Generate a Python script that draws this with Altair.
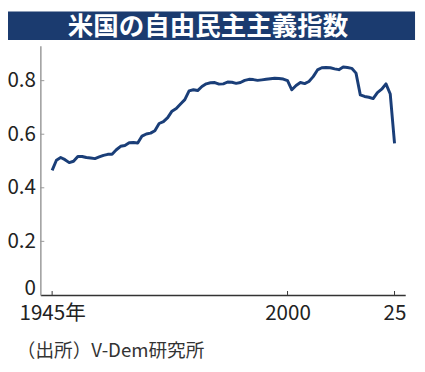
import altair as alt
import pandas as pd

title_text = "米国の自由民主主義指数"
source_text = "（出所）V-Dem研究所"

years = list(range(1945, 2026))
values = [
    0.465, 0.503, 0.513, 0.505, 0.494, 0.499, 0.517, 0.517, 0.513, 0.511,
    0.509, 0.515, 0.521, 0.525, 0.525, 0.542, 0.555, 0.558, 0.568, 0.569,
    0.567, 0.593, 0.601, 0.604, 0.613, 0.640, 0.647, 0.662, 0.686, 0.696,
    0.713, 0.729, 0.762, 0.766, 0.763, 0.778, 0.788, 0.792, 0.793, 0.787,
    0.788, 0.795, 0.794, 0.790, 0.793, 0.801, 0.805, 0.804, 0.801, 0.803,
    0.805, 0.807, 0.809, 0.808, 0.806, 0.800, 0.766, 0.782, 0.793, 0.789,
    0.797, 0.815, 0.840, 0.848, 0.849, 0.848, 0.844, 0.841, 0.851, 0.849,
    0.846, 0.828, 0.747, 0.741, 0.738, 0.733, 0.755, 0.768, 0.788, 0.750,
    0.566,
]

y_tick_values = [0, 0.2, 0.4, 0.6, 0.8]
x_tick_values = [1945, 2000, 2025]

W, H = 372, 254
NAVY = "#1b3b6f"
LINE = "#1a3e78"
NUM_FONT = "Noto Sans CJK JP"
CJK_FONT = "Noto Sans CJK JP"

xscale = alt.Scale(domain=[1942.25, 2027.5], nice=False, zero=False)
yscale = alt.Scale(domain=[0, 0.93], nice=False, zero=True)

x_axis = alt.Axis(
    values=x_tick_values,
    title=None,
    grid=False,
    ticks=False,
    tickSize=0,
    domainColor="#333333",
    domainWidth=1.5,
    labelFont=NUM_FONT,
    labelFontSize=21,
    labelColor="#222222",
    labelPadding=8,
    labelFlush=False,
    labelOverlap=False,
    labelExpr="datum.value == 1945 ? '1945年' : (datum.value == 2025 ? '25' : '' + datum.value)",
)
y_axis = alt.Axis(
    values=y_tick_values,
    title=None,
    grid=False,
    ticks=False,
    tickSize=0,
    domainColor="#999999",
    domainWidth=1.5,
    labelFont=NUM_FONT,
    labelFontSize=21,
    labelColor="#222222",
    labelPadding=5,
    labelFlush=False,
    labelOverlap=False,
    labelBaseline={"condition": {"test": "datum.value == 0", "value": "alphabetic"}, "value": "middle"},
    labelExpr="datum.value == 0 ? '0' : format(datum.value, '.1f')",
)

df = pd.DataFrame({"year": years, "value": values})
ytick_df = pd.DataFrame({"value": [v for v in y_tick_values if v > 0]})
xtick_df = pd.DataFrame({"year": x_tick_values})

line = alt.Chart(df).mark_line(color=LINE, strokeWidth=3, strokeJoin="round").encode(
    x=alt.X("year:Q", scale=xscale, axis=x_axis),
    y=alt.Y("value:Q", scale=yscale, axis=y_axis),
)

yticks = alt.Chart(ytick_df).mark_rule(color="#999999", strokeWidth=1).encode(
    y=alt.Y("value:Q", scale=yscale, axis=y_axis),
    x=alt.value(0),
    x2=alt.value(4),
)

xticks = alt.Chart(xtick_df).mark_rule(color="#333333", strokeWidth=1).encode(
    x=alt.X("year:Q", scale=xscale, axis=x_axis),
    y=alt.value(H),
    y2=alt.value(H - 4),
)

banner_df = pd.DataFrame({"t": [title_text]})
banner = alt.Chart(banner_df).mark_rect(color=NAVY).encode(
    x=alt.value(-33),
    x2=alt.value(382),
    y=alt.value(-35),
    y2=alt.value(-6),
)
title = alt.Chart(banner_df).mark_text(
    color="white", font=CJK_FONT, fontSize=26, fontWeight="bold", align="center", baseline="middle"
).encode(
    text="t:N",
    x=alt.value(171),
    y=alt.value(-19),
)

src_df = pd.DataFrame({"t": [source_text]})
source = alt.Chart(src_df).mark_text(
    color="#333333", font=CJK_FONT, fontSize=19, align="left", baseline="middle"
).encode(
    text="t:N",
    x=alt.value(-24),
    y=alt.value(311),
)

chart = alt.layer(line, yticks, xticks, banner, title, source).properties(
    width=W,
    height=H,
    autosize=alt.AutoSizeParams(type="none"),
    padding={"left": 33, "top": 35, "right": 12, "bottom": 75},
    background="white",
).configure_view(stroke=None)

chart.save("out.html", embed_options={"renderer": "svg", "actions": False})
